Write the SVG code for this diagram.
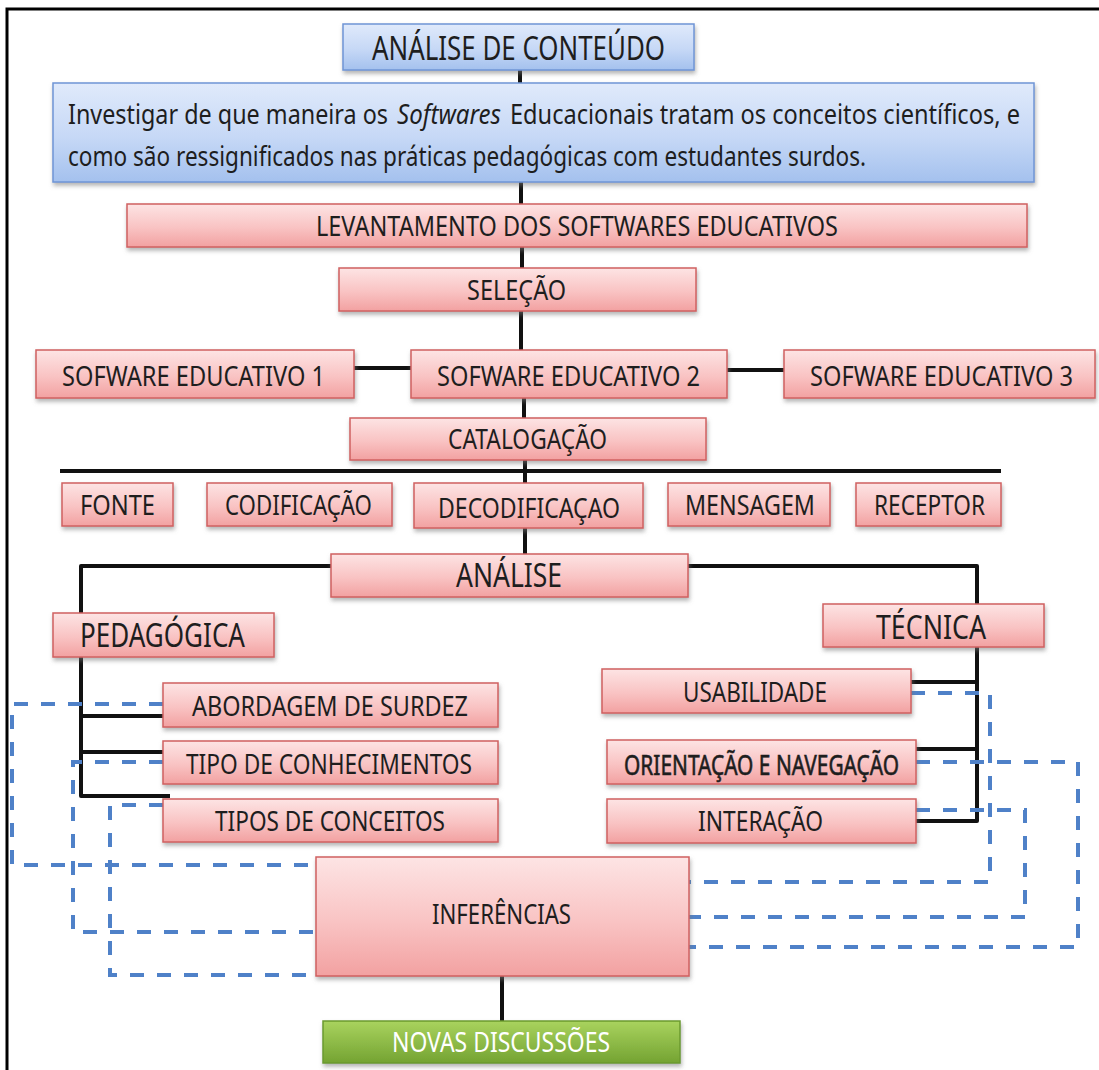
<svg xmlns="http://www.w3.org/2000/svg" width="1099" height="1070" viewBox="0 0 1099 1070">
  <defs>
    <linearGradient id="gPink" x1="0" y1="0" x2="0" y2="1">
      <stop offset="0" stop-color="#fde4e4"/>
      <stop offset="0.55" stop-color="#f9c3c3"/>
      <stop offset="1" stop-color="#f2a1a1"/>
    </linearGradient>
    <linearGradient id="gBlue" x1="0" y1="0" x2="0" y2="1">
      <stop offset="0" stop-color="#e0eafb"/>
      <stop offset="0.55" stop-color="#c6d8f6"/>
      <stop offset="1" stop-color="#a4c1ee"/>
    </linearGradient>
    <linearGradient id="gGreen" x1="0" y1="0" x2="0" y2="1">
      <stop offset="0" stop-color="#a9d35e"/>
      <stop offset="1" stop-color="#74a332"/>
    </linearGradient>
    <filter id="shadow" x="-5%" y="-20%" width="110%" height="150%">
      <feDropShadow dx="1" dy="3" stdDeviation="2" flood-color="#777" flood-opacity="0.55"/>
    </filter>
  </defs>
  <style>
    .pink { fill: url(#gPink); stroke: #d06060; stroke-width: 1.5; filter: url(#shadow); }
    .blue { fill: url(#gBlue); stroke: #6f95d6; stroke-width: 1.5; filter: url(#shadow); }
    .green { fill: url(#gGreen); stroke: #6b9a2e; stroke-width: 1.5; filter: url(#shadow); }
    .lbl { font-family: "Noto Sans", "Liberation Sans", sans-serif; fill: #1e1e1e; font-size: 27px; }
    .big { font-size: 32px; }
    .semi { stroke: #1e1e1e; stroke-width: 0.6; }
    .white { fill: #ffffff; }
    .conn { fill: none; stroke: #111; stroke-width: 4; stroke-linejoin: round; }
    .dash { fill: none; stroke: #4f81c8; stroke-width: 4; stroke-dasharray: 14 13; }
    .frame { fill: none; stroke: #000; stroke-width: 3; }
  </style>

  <rect width="1099" height="1070" fill="#ffffff"/>
  <path class="frame" d="M1099 9 H7 V1070"/>

  <!-- connectors -->
  <g id="connectors">
    <path class="conn" d="M520 70 V83"/>
    <path class="conn" d="M521 182 V204"/>
    <path class="conn" d="M522 247 V268"/>
    <path class="conn" d="M521 311 V350"/>
    <path class="conn" d="M354 368 H411"/>
    <path class="conn" d="M727 370 H784"/>
    <path class="conn" d="M524 398 V418"/>
    <path class="conn" d="M60 471 H1001"/>
    <path class="conn" d="M525 460 V555"/>
    <path class="conn" d="M331 566 H81 V796 H170"/>
    <path class="conn" d="M81 716 H163"/>
    <path class="conn" d="M81 752 H163"/>
    <path class="conn" d="M688 566 H977 V821 H916"/>
    <path class="conn" d="M911 682 H977"/>
    <path class="conn" d="M916 749 H977"/>
    <path class="conn" d="M502 976 V1021"/>
    <!-- dashed feedback links into INFERÊNCIAS -->
    <path class="dash" d="M163 704 H12 V865 H316"/>
    <path class="dash" d="M163 762 H73 V932 H316"/>
    <path class="dash" d="M163 805 H110 V975 H316"/>
    <path class="dash" d="M911 693 H990 V882 H689"/>
    <path class="dash" d="M916 762 H1078 V947 H689"/>
    <path class="dash" d="M916 810 H1025 V917 H689"/>
  </g>

  <g id="n-titulo">
    <rect class="blue" x="343" y="24" width="351" height="46"/>
    <text class="lbl big" x="372" y="60" textLength="293" lengthAdjust="spacingAndGlyphs">ANÁLISE DE CONTEÚDO</text>
  </g>
  <g id="n-objetivo">
    <rect class="blue" x="53" y="83" width="981" height="99"/>
    <text class="lbl" x="68" y="124" textLength="320" lengthAdjust="spacingAndGlyphs">Investigar de que maneira os</text>
    <text class="lbl" x="397" y="124" font-style="italic" textLength="104" lengthAdjust="spacingAndGlyphs">Softwares</text>
    <text class="lbl" x="510" y="124" textLength="510" lengthAdjust="spacingAndGlyphs">Educacionais tratam os conceitos científicos, e</text>
    <text class="lbl" x="68" y="166" textLength="798" lengthAdjust="spacingAndGlyphs">como são ressignificados nas práticas pedagógicas com estudantes surdos.</text>
  </g>
  <g id="n-levantamento">
    <rect class="pink" x="127" y="204" width="900" height="43"/>
    <text class="lbl" x="316" y="236" textLength="522" lengthAdjust="spacingAndGlyphs">LEVANTAMENTO DOS SOFTWARES EDUCATIVOS</text>
  </g>
  <g id="n-selecao">
    <rect class="pink" x="339" y="268" width="357" height="43"/>
    <text class="lbl" x="467" y="300" textLength="99" lengthAdjust="spacingAndGlyphs">SELEÇÃO</text>
  </g>
  <g id="n-se1">
    <rect class="pink" x="36" y="350" width="318" height="48"/>
    <text class="lbl" x="62" y="386" textLength="263" lengthAdjust="spacingAndGlyphs">SOFWARE EDUCATIVO 1</text>
  </g>
  <g id="n-se2">
    <rect class="pink" x="411" y="350" width="316" height="48"/>
    <text class="lbl" x="437" y="386" textLength="263" lengthAdjust="spacingAndGlyphs">SOFWARE EDUCATIVO 2</text>
  </g>
  <g id="n-se3">
    <rect class="pink" x="784" y="350" width="311" height="48"/>
    <text class="lbl" x="810" y="386" textLength="263" lengthAdjust="spacingAndGlyphs">SOFWARE EDUCATIVO 3</text>
  </g>
  <g id="n-catalogacao">
    <rect class="pink" x="350" y="418" width="356" height="42"/>
    <text class="lbl" x="448" y="449" textLength="159" lengthAdjust="spacingAndGlyphs">CATALOGAÇÃO</text>
  </g>
  <g id="n-fonte">
    <rect class="pink" x="62" y="483" width="111" height="43"/>
    <text class="lbl" x="80" y="515" textLength="75" lengthAdjust="spacingAndGlyphs">FONTE</text>
  </g>
  <g id="n-codificacao">
    <rect class="pink" x="207" y="483" width="185" height="43"/>
    <text class="lbl" x="225" y="515" textLength="147" lengthAdjust="spacingAndGlyphs">CODIFICAÇÃO</text>
  </g>
  <g id="n-decodificacao">
    <rect class="pink" x="414" y="483" width="229" height="45"/>
    <text class="lbl" x="438" y="518" textLength="182" lengthAdjust="spacingAndGlyphs">DECODIFICAÇAO</text>
  </g>
  <g id="n-mensagem">
    <rect class="pink" x="668" y="483" width="162" height="43"/>
    <text class="lbl" x="685" y="515" textLength="130" lengthAdjust="spacingAndGlyphs">MENSAGEM</text>
  </g>
  <g id="n-receptor">
    <rect class="pink" x="856" y="483" width="145" height="43"/>
    <text class="lbl" x="874" y="515" textLength="111" lengthAdjust="spacingAndGlyphs">RECEPTOR</text>
  </g>
  <g id="n-analise">
    <rect class="pink" x="331" y="554" width="357" height="43"/>
    <text class="lbl big" x="456" y="587" textLength="106" lengthAdjust="spacingAndGlyphs">ANÁLISE</text>
  </g>
  <g id="n-pedagogica">
    <rect class="pink" x="53" y="613" width="221" height="44"/>
    <text class="lbl big" x="80" y="647" textLength="165" lengthAdjust="spacingAndGlyphs">PEDAGÓGICA</text>
  </g>
  <g id="n-tecnica">
    <rect class="pink" x="823" y="604" width="221" height="43"/>
    <text class="lbl big" x="876" y="639" textLength="110" lengthAdjust="spacingAndGlyphs">TÉCNICA</text>
  </g>
  <g id="n-abordagem">
    <rect class="pink" x="163" y="683" width="335" height="44"/>
    <text class="lbl" x="192" y="716" textLength="276" lengthAdjust="spacingAndGlyphs">ABORDAGEM  DE SURDEZ</text>
  </g>
  <g id="n-tipo-conhecimentos">
    <rect class="pink" x="163" y="741" width="335" height="43"/>
    <text class="lbl" x="186" y="774" textLength="286" lengthAdjust="spacingAndGlyphs">TIPO DE CONHECIMENTOS</text>
  </g>
  <g id="n-tipos-conceitos">
    <rect class="pink" x="163" y="799" width="335" height="43"/>
    <text class="lbl" x="215" y="831" textLength="230" lengthAdjust="spacingAndGlyphs">TIPOS DE CONCEITOS</text>
  </g>
  <g id="n-usabilidade">
    <rect class="pink" x="602" y="669" width="309" height="44"/>
    <text class="lbl" x="683" y="702" textLength="144" lengthAdjust="spacingAndGlyphs">USABILIDADE</text>
  </g>
  <g id="n-orientacao">
    <rect class="pink" x="607" y="740" width="309" height="44"/>
    <text class="lbl semi" x="624" y="775" font-size="26" textLength="275" lengthAdjust="spacingAndGlyphs">ORIENTAÇÃO E NAVEGAÇÃO</text>
  </g>
  <g id="n-interacao">
    <rect class="pink" x="607" y="799" width="309" height="44"/>
    <text class="lbl" x="698" y="831" textLength="125" lengthAdjust="spacingAndGlyphs">INTERAÇÃO</text>
  </g>
  <g id="n-inferencias">
    <rect class="pink" x="316" y="857" width="373" height="119"/>
    <text class="lbl" x="432" y="924" textLength="139" lengthAdjust="spacingAndGlyphs">INFERÊNCIAS</text>
  </g>
  <g id="n-novas">
    <rect class="green" x="323" y="1021" width="357" height="42"/>
    <text class="lbl white" x="392" y="1052" textLength="218" lengthAdjust="spacingAndGlyphs">NOVAS DISCUSSÕES</text>
  </g>
</svg>
